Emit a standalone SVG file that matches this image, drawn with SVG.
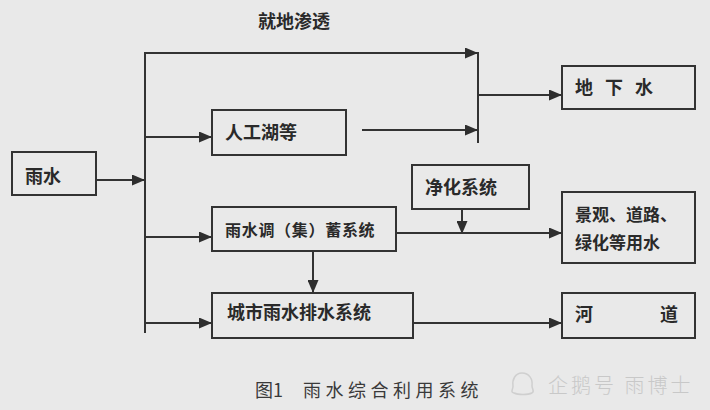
<svg xmlns="http://www.w3.org/2000/svg" width="710" height="410" viewBox="0 0 710 410">
  <defs>
    <marker id="ah" viewBox="0 0 13 11" refX="13" refY="5.5" markerWidth="13" markerHeight="11" markerUnits="userSpaceOnUse" orient="auto">
      <path d="M0,0 L13,5.5 L0,11 Z" fill="#2e2e2e"/>
    </marker>
  </defs>
  <style>
    .box { fill: none; stroke: #333; stroke-width: 2; }
    .t { font-family: "Noto Sans CJK SC", "Noto Sans", sans-serif; font-size: 18px; font-weight: bold; fill: #2a2a2a; }
    .c { stroke: #333; stroke-width: 2; fill: none; }
    .a { marker-end: url(#ah); }
    .cap { font-family: "Noto Sans CJK SC", sans-serif; font-size: 18px; fill: #3a3a3a; }
    .wm { font-family: "Noto Sans CJK SC", sans-serif; font-size: 20px; font-weight: 300; fill: #c8c8c8; }
  </style>
  <rect x="0" y="0" width="710" height="410" fill="#e9e9e9"/>

  <g id="connectors">
    <path class="c a" d="M96,180 H145"/>
    <path class="c" d="M145,52 V333"/>
    <path class="c a" d="M145,53 H478"/>
    <path class="c a" d="M145,137 H212"/>
    <path class="c a" d="M362,130 H478"/>
    <path class="c" d="M478,52 V143"/>
    <path class="c a" d="M478,95 H562"/>
    <path class="c a" d="M145,237 H212"/>
    <path class="c a" d="M313,251 V293"/>
    <path class="c a" d="M145,323 H212"/>
    <path class="c a" d="M462,209 V234"/>
    <path class="c a" d="M396,233 H562"/>
    <path class="c a" d="M413,323 H562"/>
  </g>

  <g id="label-jiudi">
    <text class="t" x="258" y="28">就地渗透</text>
  </g>

  <g id="node-yushui">
    <rect class="box" x="12" y="152" width="84" height="43"/>
    <text class="t" x="25" y="183">雨水</text>
  </g>

  <g id="node-rengonghu">
    <rect class="box" x="212" y="110" width="134" height="45"/>
    <text class="t" x="225" y="139">人工湖等</text>
  </g>

  <g id="node-tiaoxu">
    <rect class="box" x="212" y="207" width="184" height="44"/>
    <text class="t" x="225" y="236" style="font-size:16px;letter-spacing:0.7px">雨水调（集）蓄系统</text>
  </g>

  <g id="node-paishui">
    <rect class="box" x="212" y="293" width="201" height="45"/>
    <text class="t" x="227" y="319">城市雨水排水系统</text>
  </g>

  <g id="node-jinghua">
    <rect class="box" x="412" y="165" width="117" height="44"/>
    <text class="t" x="425" y="194">净化系统</text>
  </g>

  <g id="node-dixiashui">
    <rect class="box" x="562" y="66" width="133" height="43"/>
    <text class="t" x="575" y="94" style="letter-spacing:12px">地下水</text>
  </g>

  <g id="node-jingguan">
    <rect class="box" x="562" y="192" width="133" height="71"/>
    <text class="t" x="575" y="221" style="font-size:17px">景观、道路、</text>
    <text class="t" x="575" y="249" style="font-size:17px">绿化等用水</text>
  </g>

  <g id="node-hedao">
    <rect class="box" x="562" y="293" width="133" height="45"/>
    <text class="t" x="575" y="321">河</text>
    <text class="t" x="660" y="321">道</text>
  </g>

  <g id="caption">
    <text class="cap" x="255" y="397">图1</text>
    <text class="cap" x="303" y="397" style="letter-spacing:4.5px">雨水综合利用系统</text>
  </g>

  <g id="watermark">
    <path d="M522,373 C515,373 512,380 513,386 C513,390 510,392 514,393 C518,395 528,395 532,393 C535,391 532,389 532,386 C533,379 529,373 522,373 Z" fill="none" stroke="#cfcfcf" stroke-width="1.5"/>
    <text class="wm" x="548" y="393" style="letter-spacing:3px">企鹅号 雨博士</text>
  </g>
</svg>
